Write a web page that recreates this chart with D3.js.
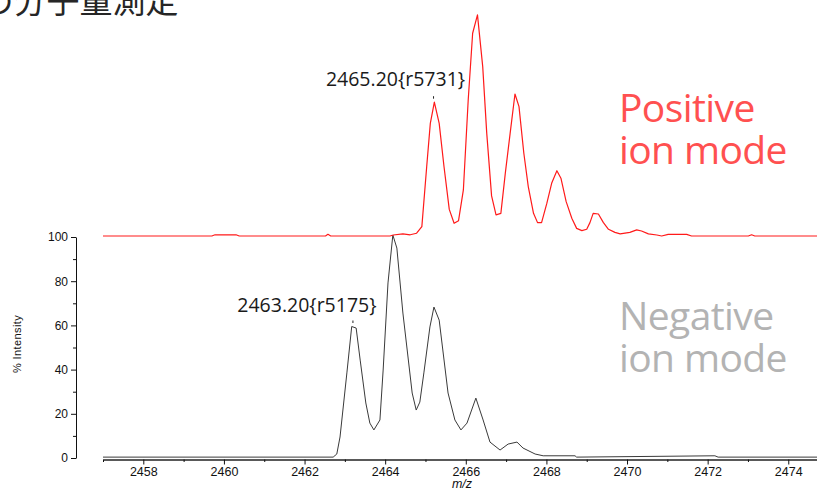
<!DOCTYPE html>
<html>
<head>
<meta charset="utf-8">
<script src="https://cdn.jsdelivr.net/npm/d3@7"></script>
<style>
  html, body { margin: 0; padding: 0; background: #fff; overflow: hidden; }
  svg { display: block; }
</style>
</head>
<body>
<svg id="chart" width="817" height="489"></svg>
<script>
// Negative ion mode spectrum (m/z, % intensity)
const negativeMz = [2457.00, 2462.71, 2462.80, 2462.88, 2463.05, 2463.17, 2463.28, 2463.38, 2463.52, 2463.62,
  2463.72, 2463.87, 2463.95, 2464.07, 2464.19, 2464.29, 2464.44, 2464.67, 2464.77, 2464.86,
  2464.96, 2465.11, 2465.21, 2465.34, 2465.56, 2465.73, 2465.88, 2466.03, 2466.25, 2466.43,
  2466.60, 2466.85, 2467.05, 2467.27, 2467.42, 2467.72, 2467.92, 2468.71, 2468.75, 2472.18,
  2472.26, 2475.00];
const negativeIntensity = [0.4, 0.4, 1.8, 9.5, 38.5, 59.5, 58.8, 44.3, 24.9, 15.8,
  12.7, 17.2, 39.8, 79.2, 100.9, 95.0, 65.6, 29.4, 21.7, 25.3,
  38.5, 59.3, 68.3, 62.4, 29.4, 17.2, 12.7, 15.8, 27.1, 17.2,
  7.2, 3.6, 6.3, 7.2, 4.5, 1.8, 1.0, 1.0, 0.4, 1.0,
  0.4, 0.4];

// Positive ion mode spectrum (m/z, % intensity), drawn stacked above the negative trace
const positiveMz = [2457.00, 2459.70, 2459.78, 2460.30, 2460.38, 2462.52, 2462.58, 2462.65, 2464.12, 2464.20,
  2464.44, 2464.62, 2464.78, 2464.91, 2465.03, 2465.12, 2465.22, 2465.34, 2465.46, 2465.59,
  2465.71, 2465.82, 2465.94, 2466.06, 2466.17, 2466.29, 2466.42, 2466.52, 2466.64, 2466.75,
  2466.87, 2466.98, 2467.10, 2467.22, 2467.32, 2467.44, 2467.55, 2467.68, 2467.78, 2467.88,
  2468.01, 2468.13, 2468.26, 2468.36, 2468.49, 2468.63, 2468.75, 2468.88, 2469.00, 2469.08,
  2469.16, 2469.29, 2469.41, 2469.54, 2469.70, 2469.83, 2470.07, 2470.24, 2470.36, 2470.53,
  2470.74, 2470.86, 2471.02, 2471.48, 2471.60, 2473.01, 2473.09, 2473.17, 2475.00];
const positiveIntensity = [0.45, 0.45, 1.0, 1.0, 0.45, 0.45, 1.2, 0.45, 0.45, 0.9,
  1.4, 1.0, 1.7, 4.7, 31.8, 51.4, 61.0, 51.4, 31.8, 12.5,
  6.2, 7.4, 21.3, 62.0, 92.2, 100.5, 77.1, 46.9, 18.6, 10.0,
  10.7, 28.8, 46.9, 64.7, 59.0, 37.9, 22.8, 10.7, 6.5, 6.5,
  15.2, 24.3, 30.0, 26.6, 16.0, 8.5, 3.9, 2.9, 3.5, 6.5,
  10.7, 10.4, 6.6, 3.5, 2.1, 1.4, 2.1, 3.2, 2.7, 1.4,
  0.9, 0.45, 1.2, 1.2, 0.45, 0.45, 1.0, 0.45, 0.45];

// Axis ticks
const xMajorTicks = [2458, 2460, 2462, 2464, 2466, 2468, 2470, 2472, 2474];
const xMinorTicks = [2457, 2459, 2461, 2463, 2465, 2467, 2469, 2471, 2473, 2475];
const yMajorTicks = [0, 20, 40, 60, 80, 100];
const yMinorTicks = [10, 30, 50, 70, 90];

// Peak annotations
const peakLabelText = ["2465.20{r5731}", "2463.20{r5175}"];
const peakLabelMz = [2465.20, 2463.20];
const peakLabelIntensity = [61.0, 59.5];
const peakLabelSeries = ["positive", "negative"];

const modeLabelLines = [["Positive", "ion mode"], ["Negative", "ion mode"]];

const positiveOffset = 100;

const svg = d3.select("#chart");

const x = d3.scaleLinear().domain([2457, 2475]).range([103, 103 + 18 * 40.31]);
const y = d3.scaleLinear().domain([0, 100]).range([458, 237]);

// Title (partially out of view at the top edge)
svg.append("text")
  .attr("x", -19.5).attr("y", 13)
  .attr("font-family", "'Noto Sans CJK JP', sans-serif")
  .attr("font-size", 33)
  .attr("fill", "#262626")
  .text("の分子量測定");

// Y axis
const yAxisX = 76;
const yAxis = d3.axisLeft(y).tickValues(yMajorTicks).tickSize(5).tickSizeOuter(0).tickPadding(3);
const gy = svg.append("g").attr("transform", `translate(${yAxisX},0)`).call(yAxis);
gy.select(".domain").attr("stroke", "#111");
gy.selectAll(".tick line").attr("stroke", "#111");
gy.selectAll(".tick text")
  .attr("font-family", "'Liberation Sans', Arial, sans-serif")
  .attr("font-size", 12).attr("fill", "#111");
const yMinor = d3.axisLeft(y).tickValues(yMinorTicks).tickSize(3).tickSizeOuter(0).tickFormat("");
const gym = svg.append("g").attr("transform", `translate(${yAxisX},0)`).call(yMinor);
gym.select(".domain").remove();
gym.selectAll(".tick line").attr("stroke", "#111");

svg.append("text")
  .attr("transform", "translate(21,344) rotate(-90)")
  .attr("text-anchor", "middle")
  .attr("font-family", "'Liberation Sans', Arial, sans-serif")
  .attr("font-size", 11)
  .attr("letter-spacing", 0.4)
  .attr("fill", "#111")
  .text("% Intensity");

// X axis
const xAxisY = 459.5;
const xAxis = d3.axisBottom(x).tickValues(xMajorTicks).tickSize(5).tickSizeOuter(0).tickPadding(3).tickFormat(d3.format("d"));
const gx = svg.append("g").attr("transform", `translate(0,${xAxisY})`).call(xAxis);
gx.select(".domain").attr("stroke", "#222").attr("stroke-width", 1.3);
gx.selectAll(".tick line").attr("stroke", "#111");
gx.selectAll(".tick text")
  .attr("font-family", "'Liberation Sans', Arial, sans-serif")
  .attr("font-size", 12.5).attr("fill", "#111");
const xMinor = d3.axisBottom(x).tickValues(xMinorTicks).tickSize(2.5).tickSizeOuter(0).tickFormat("");
const gxm = svg.append("g").attr("transform", `translate(0,${xAxisY})`).call(xMinor);
gxm.select(".domain").remove();
gxm.selectAll(".tick line").attr("stroke", "#111");

svg.append("text")
  .attr("x", 462).attr("y", 488)
  .attr("text-anchor", "middle")
  .attr("font-family", "'Liberation Sans', Arial, sans-serif")
  .attr("font-size", 12.5)
  .attr("font-style", "italic")
  .attr("fill", "#111")
  .text("m/z");

// Traces
const negativeData = negativeMz.map((m, i) => ({ mz: m, v: negativeIntensity[i] }));
const positiveData = positiveMz.map((m, i) => ({ mz: m, v: positiveIntensity[i] + positiveOffset }));

const line = d3.line().x(d => x(d.mz)).y(d => y(d.v));

svg.append("path")
  .datum(negativeData)
  .attr("d", line)
  .attr("fill", "none")
  .attr("stroke", "#3a3a3a")
  .attr("stroke-width", 1)
  .attr("stroke-linejoin", "round");

svg.append("path")
  .datum(positiveData)
  .attr("d", line)
  .attr("fill", "none")
  .attr("stroke", "#ff1a1a")
  .attr("stroke-width", 1.2)
  .attr("stroke-linejoin", "round");

// Peak labels with a small marker above each labelled peak
const labelDx = { positive: -38, negative: -46 };
const labelDy = { positive: -16, negative: -14.5 };
peakLabelText.forEach((t, i) => {
  const series = peakLabelSeries[i];
  const v = peakLabelIntensity[i] + (series === "positive" ? positiveOffset : 0);
  const px = x(peakLabelMz[i]);
  const py = y(v);
  svg.append("line")
    .attr("x1", px).attr("x2", px)
    .attr("y1", py - 6).attr("y2", py - 3.5)
    .attr("stroke", "#222").attr("stroke-width", 1);
  svg.append("text")
    .attr("x", px + labelDx[series]).attr("y", py + labelDy[series])
    .attr("text-anchor", "middle")
    .attr("font-family", "'Open Sans', 'Noto Sans', sans-serif")
    .attr("font-size", 19.5)
    .attr("fill", "#1a1a1a")
    .text(t);
});

// Ion mode captions
const captionColor = ["#ff5050", "#b3b3b3"];
const captionBaseline = [121.5, 329.5];
modeLabelLines.forEach((lines, i) => {
  const t = svg.append("text")
    .attr("font-family", "'Open Sans', 'Noto Sans', sans-serif")
    .attr("font-size", 39)
    .attr("letter-spacing", -0.6)
    .attr("fill", captionColor[i]);
  lines.forEach((s, j) => {
    t.append("tspan")
      .attr("x", 619)
      .attr("y", captionBaseline[i] + j * 42.5)
      .text(s);
  });
});
</script>
</body>
</html>
